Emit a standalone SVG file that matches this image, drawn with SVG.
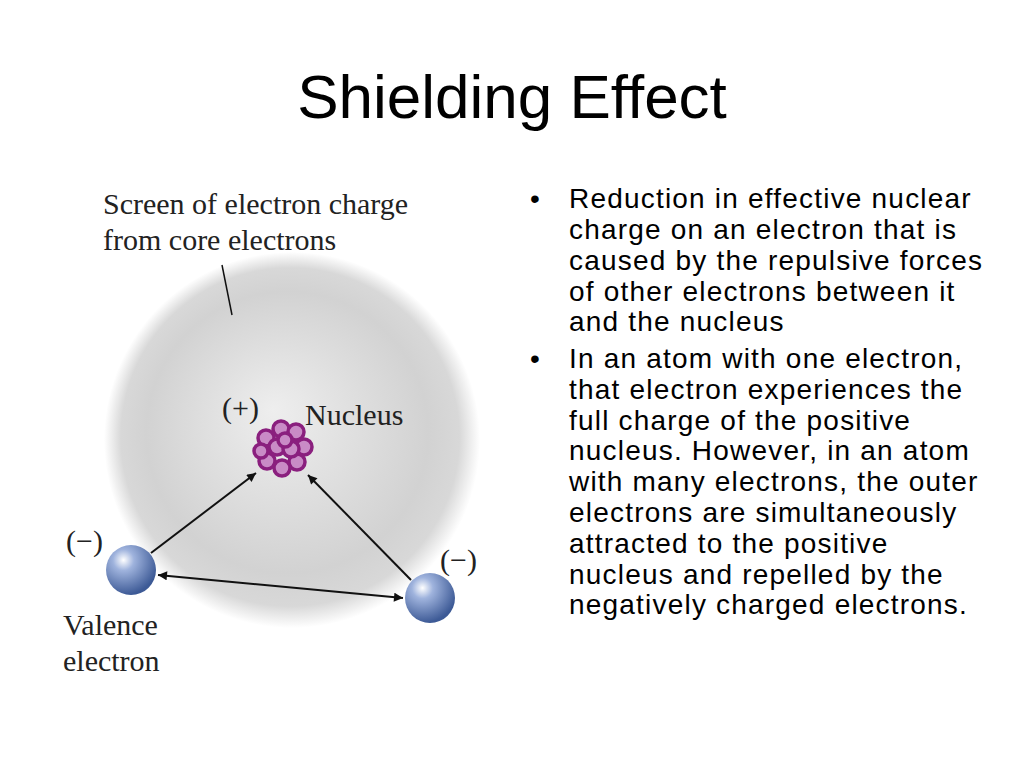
<svg xmlns="http://www.w3.org/2000/svg" width="1024" height="768" viewBox="0 0 1024 768">
<defs>
<radialGradient id="sph" cx="0.5" cy="0.5" r="0.5" fx="0.45" fy="0.42">
<stop offset="0" stop-color="#eeeeee"/><stop offset="0.75" stop-color="#d2d2d2"/><stop offset="0.9" stop-color="#d8d8d8"/><stop offset="1" stop-color="#ffffff"/>
</radialGradient>
<radialGradient id="el" cx="0.35" cy="0.3" r="0.7">
<stop offset="0" stop-color="#ffffff"/><stop offset="0.3" stop-color="#9fb3dd"/><stop offset="1" stop-color="#3d5a96"/>
</radialGradient>
<marker id="ah" viewBox="0 0 10 10" refX="10" refY="5" markerWidth="12" markerHeight="9" orient="auto-start-reverse" markerUnits="userSpaceOnUse">
<path d="M0,0L10,5L0,10z" fill="#111"/>
</marker>
<style>
.s{font-family:"Liberation Serif",serif;font-size:30px;fill:#222}
.b{font-family:"Liberation Sans",Arial,sans-serif;font-size:28px;letter-spacing:1.2px;fill:#000}
.p{fill:#c98bc6;stroke:#8a1f7e;stroke-width:3.5}
.c{stroke:#111;stroke-width:2;fill:none}
</style>
</defs>
<rect width="1024" height="768" fill="#fff"/>
<text x="512" y="118" text-anchor="middle" font-family="Liberation Sans,Arial,sans-serif" font-size="62">Shielding Effect</text>
<g id="sphere"><circle cx="292" cy="440" r="188" fill="url(#sph)"/></g>
<g id="screen-label"><text class="s" x="103" y="214">Screen of electron charge</text><text class="s" x="103" y="250">from core electrons</text><line x1="222" y1="265" x2="232" y2="315" stroke="#111" stroke-width="1.5"/></g>
<g id="nucleus">
<text class="s" x="222" y="418">(+)</text><text class="s" x="305" y="425">Nucleus</text>
<circle class="p" cx="266" cy="438" r="8"/><circle class="p" cx="281" cy="429" r="8"/><circle class="p" cx="296" cy="432" r="8"/><circle class="p" cx="304" cy="447" r="8"/><circle class="p" cx="297" cy="462" r="8"/><circle class="p" cx="282" cy="468" r="8"/><circle class="p" cx="267" cy="461" r="8"/><circle class="p" cx="277" cy="447" r="8"/><circle class="p" cx="291" cy="449" r="8"/><circle class="p" cx="261" cy="451" r="7"/><circle class="p" cx="285" cy="440" r="7"/>
</g>
<g id="left-electron"><circle cx="131" cy="570" r="25" fill="url(#el)"/><text class="s" x="66" y="551">(−)</text><text class="s" x="63" y="635">Valence</text><text class="s" x="63" y="671">electron</text></g>
<g id="right-electron"><circle cx="430" cy="598" r="25" fill="url(#el)"/><text class="s" x="440" y="570">(−)</text></g>
<g id="connectors">
<line class="c" x1="151" y1="553" x2="256" y2="473" marker-end="url(#ah)"/>
<line class="c" x1="411" y1="580" x2="308" y2="475" marker-end="url(#ah)"/>
<line class="c" x1="158" y1="575" x2="403" y2="598" marker-start="url(#ah)" marker-end="url(#ah)"/>
</g>
<g id="bullets" class="b">
<text x="530" y="208">•</text>
<text x="569" y="208">Reduction in effective nuclear</text>
<text x="569" y="239">charge on an electron that is</text>
<text x="569" y="270">caused by the repulsive forces</text>
<text x="569" y="301">of other electrons between it</text>
<text x="569" y="331">and the nucleus</text>
<text x="530" y="368">•</text>
<text x="569" y="368">In an atom with one electron,</text>
<text x="569" y="399">that electron experiences the</text>
<text x="569" y="430">full charge of the positive</text>
<text x="569" y="460">nucleus. However, in an atom</text>
<text x="569" y="491">with many electrons, the outer</text>
<text x="569" y="522">electrons are simultaneously</text>
<text x="569" y="553">attracted to the positive</text>
<text x="569" y="584">nucleus and repelled by the</text>
<text x="569" y="614">negatively charged electrons.</text>
</g>
</svg>
